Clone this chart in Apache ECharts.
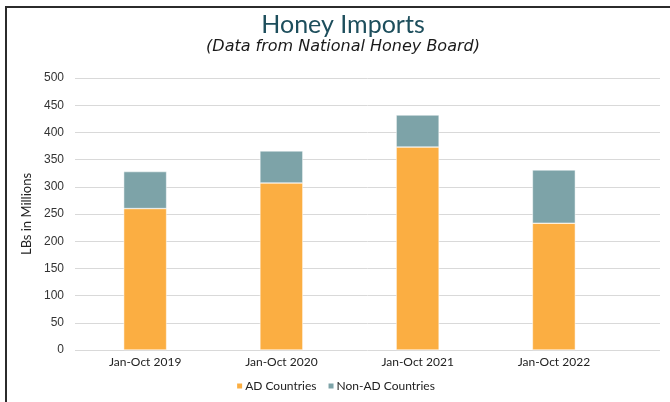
<!DOCTYPE html>
<html>
<head>
<meta charset="utf-8">
<script src="https://cdn.jsdelivr.net/npm/echarts@6/dist/echarts.min.js"></script>
<style>
  html, body { margin: 0; padding: 0; background: #fff; }
  #frame {
    position: absolute; left: 5px; top: 6px; width: 680px; height: 420px;
    border-left: 2px solid #2b2b2b; border-top: 2px solid #2b2b2b;
  }
  #chart { position: absolute; left: 0; top: 0; width: 670px; height: 402px; }
</style>
</head>
<body>
<div id="frame"></div>
<div id="chart"></div>
<script>
// chart data
var categories = ['Jan-Oct 2019', 'Jan-Oct 2020', 'Jan-Oct 2021', 'Jan-Oct 2022'];
var adCountries = [260, 307, 373, 233];
var nonAdCountries = [68, 59, 59, 98];
var seriesNames = ['AD Countries', 'Non-AD Countries'];

var chart = echarts.init(document.getElementById('chart'));
var labelFont = 'Lato, "Open Sans", sans-serif';

var option = {
  animation: false,
  title: [
    {
      text: 'Honey Imports',
      left: 338, top: 7, textAlign: 'center',
      textStyle: { fontFamily: labelFont, fontWeight: 'normal', fontSize: 25, color: '#1d4e5c' }
    },
    {
      text: '(Data from National Honey Board)',
      left: 338, top: 34, textAlign: 'center',
      textStyle: { fontFamily: '"DejaVu Sans", sans-serif', fontStyle: 'italic', fontWeight: 'normal', fontSize: 16, color: '#1a1a1a' }
    }
  ],
  legend: {
    data: seriesNames,
    bottom: 5,
    left: 'center',
    itemWidth: 7, itemHeight: 7, itemGap: 10,
    icon: 'rect',
    textStyle: { fontFamily: labelFont, fontSize: 12, color: '#222', padding: [0, 0, 0, -3] }
  },
  // grid 0 carries the y axis and the gridlines, grid 1 the bars
  grid: [
    { left: 75, right: 10, top: 78, bottom: 52 },
    { left: 77, right: 48, top: 78, bottom: 52 }
  ],
  xAxis: [
    { gridIndex: 0, type: 'value', show: false },
    {
      gridIndex: 1, type: 'category', data: categories,
      axisLine: { show: false }, axisTick: { show: false },
      axisLabel: { fontFamily: labelFont, fontSize: 12, color: '#222', margin: 6 }
    }
  ],
  yAxis: [
    {
      gridIndex: 0, type: 'value', min: 0, max: 500, interval: 50,
      name: 'LBs in Millions', nameLocation: 'middle', nameGap: 40,
      nameTextStyle: { fontFamily: labelFont, fontSize: 13, color: '#222' },
      axisLine: { show: false }, axisTick: { show: false },
      axisLabel: { fontFamily: '"Liberation Sans", Arial, sans-serif', fontSize: 12, color: '#333', margin: 11 },
      splitLine: { lineStyle: { color: '#d9d9d9', width: 1 } }
    },
    {
      gridIndex: 1, type: 'value', min: 0, max: 500, interval: 50,
      show: false, splitLine: { show: false }
    }
  ],
  series: [
    {
      name: seriesNames[0], type: 'bar', stack: 'total',
      xAxisIndex: 1, yAxisIndex: 1,
      barWidth: '31.5%',
      itemStyle: { color: '#fbae42', borderColor: '#ffffff', borderWidth: 0.5 },
      data: adCountries
    },
    {
      name: seriesNames[1], type: 'bar', stack: 'total',
      xAxisIndex: 1, yAxisIndex: 1,
      barWidth: '31.5%',
      itemStyle: { color: '#7da3a8', borderColor: '#ffffff', borderWidth: 0.5 },
      data: nonAdCountries
    }
  ]
};

chart.setOption(option);
</script>
</body>
</html>
